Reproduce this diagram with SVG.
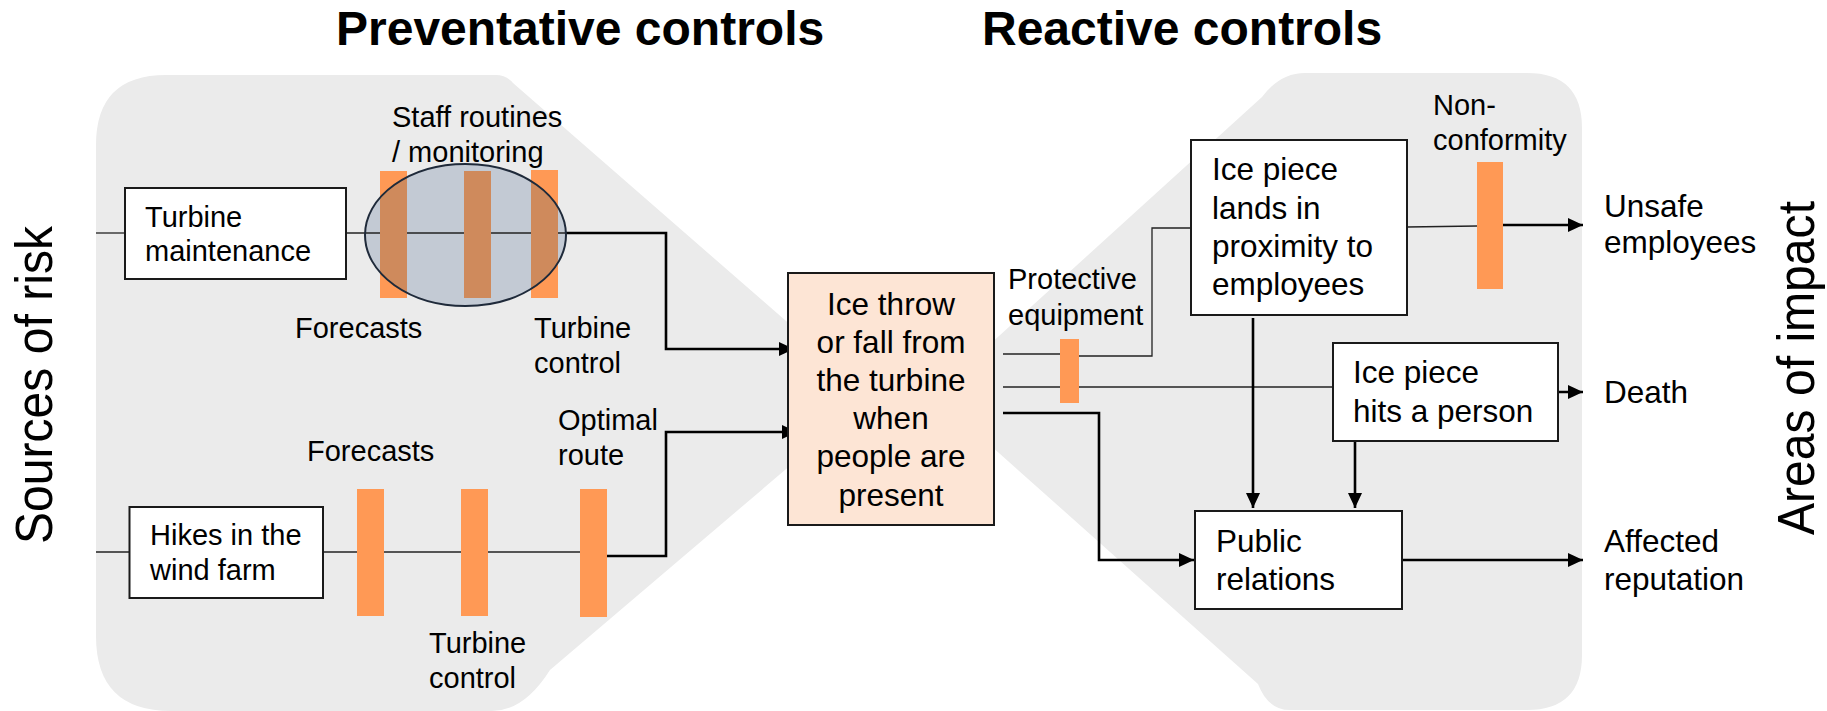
<svg xmlns="http://www.w3.org/2000/svg" width="1827" height="711" viewBox="0 0 1827 711">
<defs>
<style>
text{font-family:"Liberation Sans",Arial,Helvetica,sans-serif;fill:#000}
.h{font-size:48px;font-weight:bold}
.side{font-size:52px}
.lbl{font-size:29px}
.big{font-size:31.5px}
.box{fill:#fff;stroke:#1a1a1a;stroke-width:2}
.center{fill:#FDE5D5;stroke:#1a1a1a;stroke-width:2}
.bar{fill:#FF9955}
.barin{fill:#CF8A5C}
.thin{fill:none;stroke:#222;stroke-width:1.3}
.thick{fill:none;stroke:#000;stroke-width:2.6}
.bg{fill:#EBEBEB}
</style>
<marker id="ah" markerUnits="userSpaceOnUse" markerWidth="16" markerHeight="14" refX="15" refY="7" orient="auto"><path d="M0,0 L15,7 L0,14 z" fill="#000"/></marker>
<clipPath id="ellClip"><ellipse cx="465.5" cy="235" rx="100.5" ry="71"/></clipPath>
</defs>

<g id="background">
<path class="bg" d="M96,145 Q96,75 166,75 L496,75 Q506,75 513,83 L872,396 L550,670 Q524,711 492,711 L171,711 Q96,711 96,636 Z"/>
<path class="bg" d="M934,395 L1262,97 Q1280,73 1305,73 L1527,73 Q1582,73 1582,128 L1582,655 Q1582,710 1527,710 L1290,710 Q1268,710 1258,684 Z"/>
</g>

<g id="ellipse-fill"><ellipse cx="465.5" cy="235" rx="100.5" ry="71" fill="#C3CAD4"/></g>

<g id="connectors">
<path class="thin" d="M96,233 L125,233"/>
<path class="thin" d="M346,233 L566,233"/>
<path class="thick" d="M566,233 L666,233 L666,349 L794,349" marker-end="url(#ah)"/>
<path class="thin" d="M96,552 L129.5,552"/>
<path class="thin" d="M323,552 L580,552"/>
<path class="thick" d="M607,556 L666,556 L666,432 L797,432" marker-end="url(#ah)"/>
<path class="thin" d="M1003,354 L1060,354"/>
<path class="thin" d="M1079,356 L1152,356 L1152,228 L1191,228"/>
<path class="thin" d="M1003,387 L1333,387"/>
<path class="thick" d="M1003,413 L1099,413 L1099,560 L1194,560" marker-end="url(#ah)"/>
<path class="thin" d="M1407,227 L1477,226"/>
<path class="thick" d="M1503,225 L1583,225" marker-end="url(#ah)"/>
<path class="thick" d="M1253,318 L1253,508" marker-end="url(#ah)"/>
<path class="thick" d="M1355,441 L1355,508" marker-end="url(#ah)"/>
<path class="thick" d="M1546,392 L1583,392" marker-end="url(#ah)"/>
<path class="thick" d="M1402,560 L1583,560" marker-end="url(#ah)"/>
</g>

<g id="staff-routines">
<rect class="bar" x="380" y="171" width="27" height="127"/>
<rect class="bar" x="464" y="171" width="27" height="127"/>
<rect class="bar" x="531" y="170" width="27" height="128"/>
<g clip-path="url(#ellClip)">
<rect class="barin" x="380" y="171" width="27" height="127"/>
<rect class="barin" x="464" y="171" width="27" height="127"/>
<rect class="barin" x="531" y="170" width="27" height="128"/>
</g>
<ellipse cx="465.5" cy="235" rx="100.5" ry="71" fill="none" stroke="#1F2A3A" stroke-width="2"/>
<text class="lbl" x="392" y="127">Staff routines</text>
<text class="lbl" x="392" y="162">/ monitoring</text>
<text class="lbl" x="295" y="338">Forecasts</text>
<text class="lbl" x="534" y="338">Turbine</text>
<text class="lbl" x="534" y="373">control</text>
</g>

<g id="turbine-maintenance">
<rect class="box" x="125" y="188" width="221" height="91"/>
<text class="lbl" x="145" y="227">Turbine</text>
<text class="lbl" x="145" y="261">maintenance</text>
</g>

<g id="hikes">
<rect class="box" x="129.5" y="507" width="193.5" height="91"/>
<text class="lbl" x="150" y="545">Hikes in the</text>
<text class="lbl" x="150" y="580">wind farm</text>
</g>

<g id="hike-controls">
<rect class="bar" x="357" y="489" width="27" height="127"/>
<rect class="bar" x="461" y="489" width="27" height="127"/>
<rect class="bar" x="580" y="489" width="27" height="128"/>
<text class="lbl" x="307" y="461">Forecasts</text>
<text class="lbl" x="558" y="430">Optimal</text>
<text class="lbl" x="558" y="465">route</text>
<text class="lbl" x="429" y="653">Turbine</text>
<text class="lbl" x="429" y="688">control</text>
</g>

<g id="ice-throw">
<rect class="center" x="788" y="273" width="206" height="252"/>
<text class="big" x="891" y="315" text-anchor="middle">Ice throw</text>
<text class="big" x="891" y="353" text-anchor="middle">or fall from</text>
<text class="big" x="891" y="391" text-anchor="middle">the turbine</text>
<text class="big" x="891" y="429" text-anchor="middle">when</text>
<text class="big" x="891" y="467" text-anchor="middle">people are</text>
<text class="big" x="891" y="506" text-anchor="middle">present</text>
</g>

<g id="protective-equipment">
<rect class="bar" x="1060" y="339" width="19" height="64"/>
<text class="lbl" x="1008" y="289">Protective</text>
<text class="lbl" x="1008" y="325">equipment</text>
</g>

<g id="ice-lands">
<rect class="box" x="1191" y="140" width="216" height="175"/>
<text class="big" x="1212" y="180">Ice piece</text>
<text class="big" x="1212" y="219">lands in</text>
<text class="big" x="1212" y="257">proximity to</text>
<text class="big" x="1212" y="295">employees</text>
</g>

<g id="non-conformity">
<rect class="bar" x="1477" y="162" width="26" height="127"/>
<text class="lbl" x="1433" y="115">Non-</text>
<text class="lbl" x="1433" y="150">conformity</text>
</g>

<g id="ice-hits">
<rect class="box" x="1333" y="343" width="225" height="98"/>
<text class="big" x="1353" y="383">Ice piece</text>
<text class="big" x="1353" y="422">hits a person</text>
</g>

<g id="public-relations">
<rect class="box" x="1195" y="511" width="207" height="98"/>
<text class="big" x="1216" y="552">Public</text>
<text class="big" x="1216" y="590">relations</text>
</g>

<g id="unsafe-employees">
<text class="big" x="1604" y="217">Unsafe</text>
<text class="big" x="1604" y="253">employees</text>
</g>
<g id="death"><text class="big" x="1604" y="403">Death</text></g>
<g id="affected-reputation">
<text class="big" x="1604" y="552">Affected</text>
<text class="big" x="1604" y="590">reputation</text>
</g>

<g id="headings">
<text class="h" x="336" y="45">Preventative controls</text>
<text class="h" x="982" y="45">Reactive controls</text>
<text class="side" transform="translate(52,385) rotate(-90)" text-anchor="middle" textLength="318" lengthAdjust="spacingAndGlyphs">Sources of risk</text>
<text class="side" transform="translate(1814,368) rotate(-90)" text-anchor="middle" textLength="334" lengthAdjust="spacingAndGlyphs">Areas of impact</text>
</g>
</svg>
